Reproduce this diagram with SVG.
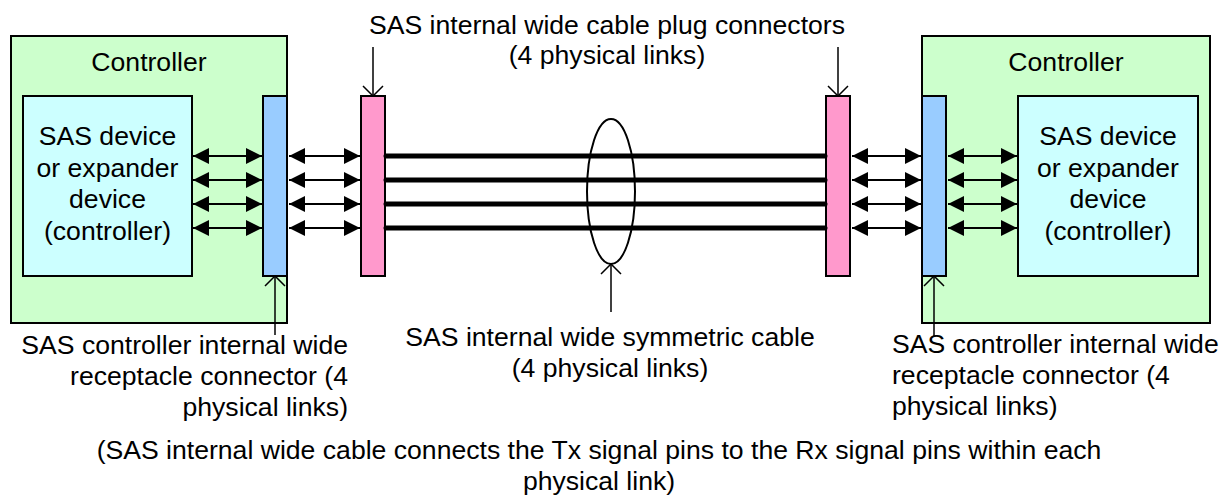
<svg xmlns="http://www.w3.org/2000/svg" width="1228" height="496" viewBox="0 0 1228 496">
<style>
text{font-family:"Liberation Sans",Arial,sans-serif;font-size:26.6px;fill:#000}
.mid{text-anchor:middle}
.end{text-anchor:end}
.box{stroke:#000;stroke-width:2}
.ctrl{fill:#CCFFCC}
.dev{fill:#CCFFFF}
.rec{fill:#99CCFF}
.plug{fill:#FF99CC}
.link{stroke:#000;stroke-width:2;marker-start:url(#tri);marker-end:url(#tri)}
.cable{stroke:#000;stroke-width:5;stroke-linecap:round}
.ptr{stroke:#000;stroke-width:1.5;fill:none;marker-end:url(#vee)}
</style>
<defs>
<marker id="tri" markerUnits="userSpaceOnUse" markerWidth="16" markerHeight="16" viewBox="0 0 16 16" refX="16" refY="8" orient="auto-start-reverse">
<path d="M0,0 L16,8 L0,16 Z" fill="#000"/>
</marker>
<marker id="vee" markerUnits="userSpaceOnUse" markerWidth="12" markerHeight="22" viewBox="0 0 12 22" refX="11" refY="11" orient="auto">
<path d="M1,1 L11,11 L1,21" fill="none" stroke="#000" stroke-width="1.5"/>
</marker>
</defs>

<g id="controller-left">
<rect class="box ctrl" x="11" y="36" width="276" height="287"/>
<text class="mid" x="149" y="71">Controller</text>
</g>
<g id="device-left">
<rect class="box dev" x="23" y="96" width="169" height="180"/>
<text class="mid" x="107.5" y="145">SAS device</text>
<text class="mid" x="107.5" y="176.5">or expander</text>
<text class="mid" x="107.5" y="208">device</text>
<text class="mid" x="107.5" y="239.5">(controller)</text>
</g>
<g id="receptacle-left">
<rect class="box rec" x="263" y="96" width="24" height="180"/>
</g>
<g id="plug-left">
<rect class="box plug" x="361" y="96" width="24" height="180"/>
</g>

<g id="controller-right">
<rect class="box ctrl" x="922" y="36" width="288" height="287"/>
<text class="mid" x="1066" y="71">Controller</text>
</g>
<g id="device-right">
<rect class="box dev" x="1018" y="96" width="180" height="180"/>
<text class="mid" x="1108" y="145">SAS device</text>
<text class="mid" x="1108" y="176.5">or expander</text>
<text class="mid" x="1108" y="208">device</text>
<text class="mid" x="1108" y="239.5">(controller)</text>
</g>
<g id="receptacle-right">
<rect class="box rec" x="922" y="96" width="24" height="180"/>
</g>
<g id="plug-right">
<rect class="box plug" x="826" y="96" width="24" height="180"/>
</g>

<g id="cable">
<ellipse cx="611" cy="191.5" rx="24" ry="72.5" fill="none" stroke="#000" stroke-width="2"/>
</g>

<g id="connectors">
<line class="cable" x1="386" y1="156" x2="825" y2="156"/>
<line class="cable" x1="386" y1="180" x2="825" y2="180"/>
<line class="cable" x1="386" y1="204" x2="825" y2="204"/>
<line class="cable" x1="386" y1="228" x2="825" y2="228"/>

<line class="link" x1="193" y1="156" x2="262" y2="156"/>
<line class="link" x1="193" y1="180" x2="262" y2="180"/>
<line class="link" x1="193" y1="204" x2="262" y2="204"/>
<line class="link" x1="193" y1="228" x2="262" y2="228"/>
<line class="link" x1="289" y1="156" x2="360" y2="156"/>
<line class="link" x1="289" y1="180" x2="360" y2="180"/>
<line class="link" x1="289" y1="204" x2="360" y2="204"/>
<line class="link" x1="289" y1="228" x2="360" y2="228"/>
<line class="link" x1="852" y1="156" x2="921" y2="156"/>
<line class="link" x1="852" y1="180" x2="921" y2="180"/>
<line class="link" x1="852" y1="204" x2="921" y2="204"/>
<line class="link" x1="852" y1="228" x2="921" y2="228"/>
<line class="link" x1="948" y1="156" x2="1017" y2="156"/>
<line class="link" x1="948" y1="180" x2="1017" y2="180"/>
<line class="link" x1="948" y1="204" x2="1017" y2="204"/>
<line class="link" x1="948" y1="228" x2="1017" y2="228"/>

<path class="ptr" d="M373,47 L373,96"/>
<path class="ptr" d="M838,47 L838,96"/>
<path class="ptr" d="M611,312 L611,264"/>
<path class="ptr" d="M275,335 L275,276"/>
<path class="ptr" d="M934,337 L934,276"/>
</g>

<g id="labels">
<text class="mid" x="607" y="34">SAS internal wide cable plug connectors</text>
<text class="mid" x="607" y="64">(4 physical links)</text>
<text class="mid" x="610" y="346">SAS internal wide symmetric cable</text>
<text class="mid" x="610" y="377">(4 physical links)</text>
<text class="end" x="348" y="354">SAS controller internal wide</text>
<text class="end" x="348" y="385">receptacle connector (4</text>
<text class="end" x="348" y="416">physical links)</text>
<text x="892" y="353">SAS controller internal wide</text>
<text x="892" y="384">receptacle connector (4</text>
<text x="892" y="415">physical links)</text>
<text class="mid" x="599" y="459">(SAS internal wide cable connects the Tx signal pins to the Rx signal pins within each</text>
<text class="mid" x="599" y="490">physical link)</text>
</g>
</svg>
